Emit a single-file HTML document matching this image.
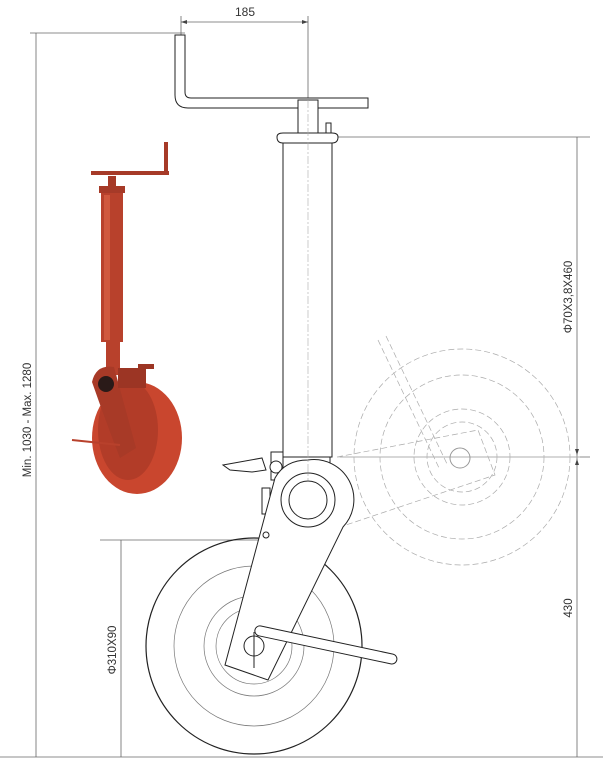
<!DOCTYPE html>
<html><head><meta charset="utf-8"><style>
html,body{margin:0;padding:0;background:#fff;}
svg{display:block;}
text{font-family:"Liberation Sans",sans-serif;fill:#333;}
</style></head><body>
<svg width="603" height="774" viewBox="0 0 603 774" xmlns="http://www.w3.org/2000/svg">
<rect width="603" height="774" fill="#fff"/>
<g stroke="#666" stroke-width="0.8" fill="none">
<line x1="181" y1="22" x2="308" y2="22"/>
<line x1="181" y1="16" x2="181" y2="38"/>
<line x1="308" y1="16" x2="308" y2="100"/>
<line x1="36" y1="33" x2="36" y2="757"/>
<line x1="30" y1="33" x2="185" y2="33"/>
<line x1="0" y1="757" x2="603" y2="757"/>
<line x1="577" y1="137" x2="577" y2="757"/>
<line x1="330" y1="137" x2="590" y2="137"/>
<line x1="340" y1="457" x2="590" y2="457"/>
<line x1="121" y1="540" x2="121" y2="757"/>
<line x1="100" y1="540" x2="258" y2="540"/>
</g>
<g fill="#444">
<path d="M181 22 l6 -2 v4z"/><path d="M308 22 l-6 -2 v4z"/>
<path d="M577 455 l-2 -6 h4z"/><path d="M577 459 l-2 6 h4z"/>
</g>
<text x="245" y="16" font-size="12" text-anchor="middle">185</text>
<text transform="translate(31,420) rotate(-90)" font-size="11.5" text-anchor="middle">Min. 1030 - Max. 1280</text>
<text transform="translate(572,297) rotate(-90)" font-size="11.5" text-anchor="middle">Φ70X3,8X460</text>
<text transform="translate(572,608) rotate(-90)" font-size="11.5" text-anchor="middle">430</text>
<text transform="translate(116,650) rotate(-90)" font-size="11.5" text-anchor="middle">Φ310X90</text>

<g stroke="#aaa" stroke-width="0.7" fill="none" stroke-dasharray="6 3">
<circle cx="462" cy="457" r="108"/>
<circle cx="462" cy="457" r="82"/>
<circle cx="462" cy="457" r="48"/>
<circle cx="462" cy="457" r="35"/>
<path d="M337 457 L478 430 L495 475 L340 527"/>
<path d="M378 340 L440 470"/>
<path d="M386 336 L448 466"/>
</g>
<line x1="337" y1="457" x2="580" y2="457" stroke="#bbb" stroke-width="0.7"/>
<circle cx="460" cy="458" r="10" stroke="#999" fill="none"/>

<g stroke="#222" fill="none">
<circle cx="254" cy="646" r="108" stroke-width="1.2"/>
<circle cx="254" cy="646" r="80" stroke="#777" stroke-width="0.7"/>
<circle cx="254" cy="646" r="50" stroke="#777" stroke-width="0.7"/>
<circle cx="254" cy="646" r="38" stroke="#777" stroke-width="0.7"/>
</g>
<g stroke="#222" stroke-width="1" fill="#fff">
<path d="M175 35 L185 35 L185 92 Q185 98 191 98 L368 98 L368 108 L188 108 Q175 108 175 95 Z"/>
<rect x="298" y="100" width="20" height="35"/>
<path d="M277 137 Q277 133 283 133 L332 133 Q338 133 338 137 Q338 143 332 143 L283 143 Q277 143 277 137Z"/>
<rect x="283" y="143" width="49" height="314"/>
<rect x="326" y="123" width="5" height="10"/>
<rect x="283" y="457" width="47" height="20"/>
<rect x="271" y="452" width="12" height="28"/>
<path d="M223 465 L262 458 L266 470 L252 472 L230 470 Z"/>
<circle cx="276" cy="467" r="6"/>
<rect x="262" y="488" width="8" height="26"/>
<path d="M225 665 L275 478 Q285 460 308 460 A40 40 0 0 1 343 527 L268 680 Z"/>
<circle cx="308" cy="500" r="27"/>
<circle cx="308" cy="500" r="19"/>
<rect x="256" y="625" width="145" height="10" rx="5" transform="rotate(12 256 625)"/>
<circle cx="254" cy="646" r="10"/>
<circle cx="266" cy="535" r="3"/>
</g>
<line x1="254" y1="632" x2="254" y2="668" stroke="#222"/>
<g stroke="#aaa" stroke-width="0.6" stroke-dasharray="8 2 2 2">
<line x1="308" y1="100" x2="308" y2="480"/>
</g>

<!-- red photo -->
<g fill="#b8412c">
<ellipse cx="137" cy="438" rx="45" ry="56" fill="#c9462e"/>
<ellipse cx="128" cy="430" rx="30" ry="50" fill="#b23c28"/>
<rect x="101" y="192" width="22" height="150"/>
<rect x="104" y="195" width="6" height="145" fill="#d0583e"/>
<rect x="106" y="340" width="14" height="35"/>
<rect x="99" y="186" width="26" height="7" fill="#a63a28"/>
<rect x="108" y="176" width="8" height="12" fill="#a63a28"/>
<rect x="91" y="171" width="78" height="4" fill="#a63a28"/>
<rect x="164" y="142" width="4" height="32" fill="#a63a28"/>
<path d="M92 382 Q96 364 114 367 L136 448 L120 458 Q106 422 92 382Z" fill="#a83a27"/>
<circle cx="106" cy="384" r="8" fill="#2a1a18"/>
<rect x="118" y="368" width="28" height="20" fill="#9c3524"/>
<rect x="138" y="364" width="16" height="5" fill="#9c3524"/>
</g>
<path d="M72 440 L120 445" stroke="#b8412c" stroke-width="2"/>
</svg>
</body></html>
